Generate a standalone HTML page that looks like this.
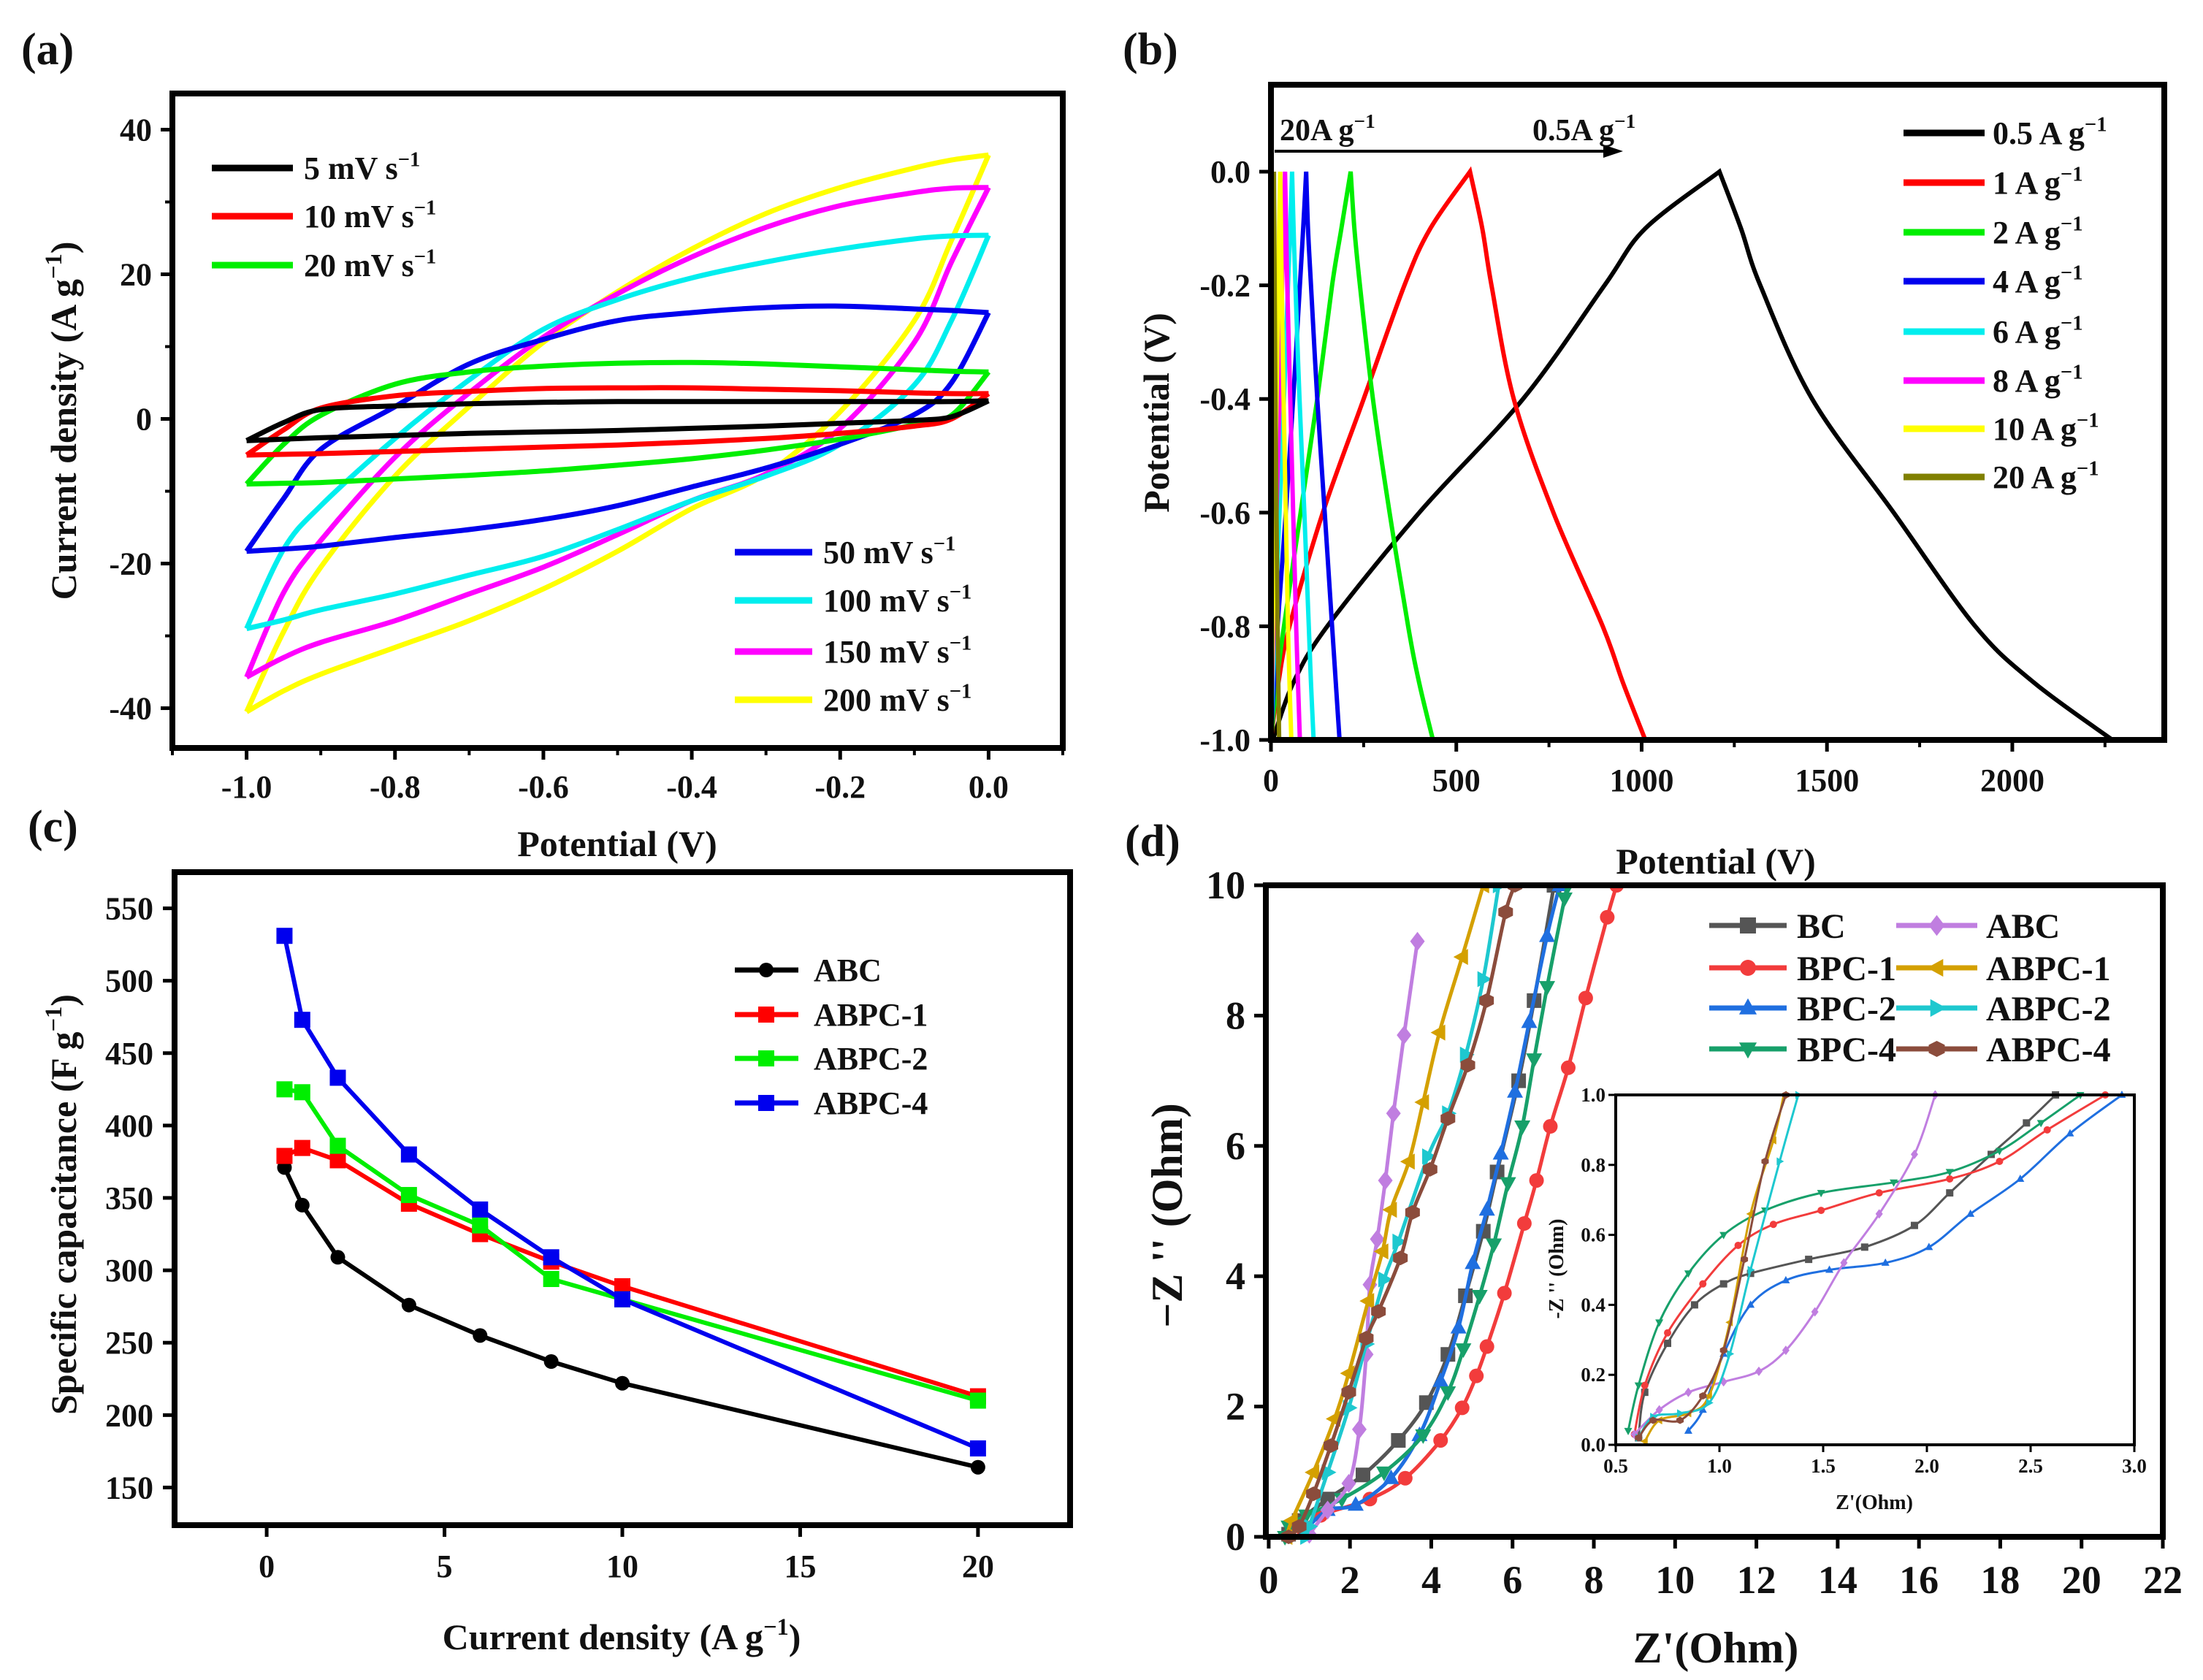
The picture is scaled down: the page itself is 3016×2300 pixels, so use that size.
<!DOCTYPE html>
<html><head><meta charset="utf-8">
<style>
html,body{margin:0;padding:0;background:#fff;}
svg{display:block;}
text{font-family:"Liberation Serif",serif;font-weight:bold;fill:#111;}
</style></head>
<body>
<svg id="fig" width="3016" height="2300" viewBox="0 0 3016 2300" xmlns="http://www.w3.org/2000/svg"></svg>
<script>
// ---------- Panel (a) CV data ----------
const cvPotential = [-1.0,-0.95,-0.9,-0.8,-0.7,-0.6,-0.5,-0.4,-0.3,-0.2,-0.1,-0.05,0.0];
const cvLabels = ["5 mV s","10 mV s","20 mV s","50 mV s","100 mV s","150 mV s","200 mV s"];
const cvColors = ["#000000","#ff0000","#00ee00","#0000ee","#00eeee","#ff00ff","#ffff00"];
const cvFwd5   = [-3,-0.5,1.3,1.8,2.1,2.3,2.4,2.4,2.4,2.4,2.4,2.4,2.5];
const cvRev5   = [-3,-2.8,-2.6,-2.3,-2.0,-1.8,-1.6,-1.3,-1.0,-0.6,-0.2,0.3,2.5];
const cvFwd10  = [-5,-1.5,1.5,3.2,3.8,4.2,4.3,4.3,4.1,3.9,3.6,3.5,3.5];
const cvRev10  = [-5,-4.9,-4.8,-4.5,-4.2,-3.9,-3.6,-3.2,-2.7,-2.0,-1.0,0.0,3.5];
const cvFwd20  = [-9,-3.5,0.5,4.8,6.5,7.3,7.7,7.8,7.6,7.2,6.8,6.6,6.5];
const cvRev20  = [-9,-8.9,-8.8,-8.3,-7.8,-7.2,-6.4,-5.5,-4.3,-2.8,-0.8,0.5,6.5];
const cvFwd50  = [-18.3,-11,-4.2,1.7,7.6,11,13.6,14.7,15.4,15.6,15.2,15,14.7];
const cvRev50  = [-18.3,-18,-17.6,-16.4,-15.3,-13.9,-12,-9.4,-6.8,-3.5,0.6,5,14.7];
const cvFwd100 = [-29,-18,-12,-2.7,5.4,12.4,16.5,19.5,21.7,23.5,24.9,25.3,25.4];
const cvRev100 = [-29,-27.8,-26.4,-24.2,-21.6,-19,-15.3,-11.3,-7.9,-3.5,4.7,13.6,25.4];
const cvFwd150 = [-35.7,-24,-16.8,-5.3,3.6,11.3,17.3,22.4,26.5,29.5,31.3,31.9,32];
const cvRev150 = [-35.7,-33,-30.9,-27.9,-24.2,-20.5,-16,-11.3,-7.6,-1.3,10.6,21.7,32];
const cvFwd200 = [-40.5,-29.4,-20.5,-7.9,1.7,10.6,17.6,23.5,28.4,32,34.7,35.8,36.5];
const cvRev200 = [-40.5,-37.6,-35.3,-31.6,-27.9,-23.5,-18.3,-12.4,-7.6,1,13.6,24.7,36.5];
const cvXTicks = [-1.0,-0.8,-0.6,-0.4,-0.2,0.0];
const cvYTicks = [40,20,0,-20,-40];

// ---------- Panel (b) GCD data ----------
// charge: times at levels (-1 -> 0); discharge: times at levels reversed (0 -> -1)
const gcdLevels = [-1,-0.9,-0.8,-0.6,-0.4,-0.2,-0.1,0];
const gcdLabels = ["0.5 A g","1  A g","2  A g","4  A g","6  A g","8  A g","10 A g","20 A g"];
const gcdColors = ["#000000","#ff0000","#00ee00","#0000ee","#00eeee","#ff00ff","#ffff00","#808000"];
const gcdCharge05 = [5,60,152,400,680,900,1010,1210];
const gcdDis05    = [1210,1268,1320,1460,1680,1900,2060,2270];
const gcdCharge1  = [0,20,50,140,250,360,430,537];
const gcdDis1     = [537,570,595,655,762,895,950,1010];
const gcdCharge2  = [0,15,35,80,125,165,190,215];
const gcdDis2     = [215,225,240,275,320,370,400,437];
const gcdCharge4  = [0,8,18,40,60,78,87,95];
const gcdDis4     = [95,100,108,125,145,165,175,185];
const gcdCharge6  = [0,5,11,23,35,46,52,57];
const gcdDis6     = [57,61,66,77,90,102,108,115];
const gcdCharge8  = [0,3,7,15,23,30,34,38];
const gcdDis8     = [38,41,44,52,60,68,73,78];
const gcdCharge10 = [0,2,5,10,15,20,22,25];
const gcdDis10    = [25,27,29,34,40,46,50,55];
const gcdCharge20 = [0,1,2,3,5,6,7,8];
const gcdDis20    = [8,9,10,12,15,18,20,22];
const gcdXTicks = [0,500,1000,1500,2000];
const gcdYTicks = [0.0,-0.2,-0.4,-0.6,-0.8,-1.0];

// ---------- Panel (c) rate data ----------
const rateCurrent = [0.5,1,2,4,6,8,10,20];
const rateABC   = [371,345,309,276,255,237,222,164];
const rateABPC1 = [379,384.5,376,346,325,306,289,213];
const rateABPC2 = [425,423,386,352,331,294,280,210];
const rateABPC4 = [531,473,433,380,342,309,280,177];
const rateXTicks = [0,5,10,15,20];
const rateYTicks = [550,500,450,400,350,300,250,200,150];

// ---------- Panel (d) EIS data ----------
const eisBCx   = [7.02,6.53,6.15,5.62,5.28,4.84,4.41,3.88,3.19,2.32,1.45,0.75,0.49];
const eisBCy   = [10,8.23,7.0,5.6,4.69,3.7,2.8,2.06,1.48,0.95,0.58,0.25,0.04];
const eisBPC1x = [8.56,8.33,7.8,7.37,6.93,6.59,6.29,5.8,5.37,5.11,4.76,4.23,3.36,2.49,1.28,0.84];
const eisBPC1y = [10,9.51,8.27,7.2,6.3,5.47,4.81,3.74,2.92,2.47,1.98,1.48,0.9,0.58,0.33,0.12];
const eisBPC2x = [7.16,6.85,6.41,6.06,5.71,5.37,5.02,4.67,4.23,3.71,3.01,2.14,1.45,0.92];
const eisBPC2y = [10,9.22,7.9,6.83,5.88,5.02,4.2,3.21,2.39,1.56,0.9,0.49,0.41,0.12];
const eisBPC4x = [7.37,7.28,6.85,6.53,6.24,5.89,5.54,5.19,4.79,4.41,3.8,2.84,1.8,0.92,0.49,0.4];
const eisBPC4y = [10,9.8,8.44,7.33,6.3,5.43,4.49,3.7,2.88,2.22,1.56,0.99,0.58,0.33,0.16,0];
const eisABCx  = [3.66,3.33,3.07,2.87,2.67,2.49,2.4,2.23,1.97,1.45,1.0];
const eisABCy  = [9.14,7.7,6.5,5.47,4.57,3.87,2.8,1.65,0.82,0.41,0.04];
const eisABPC1x = [5.28,4.76,4.2,3.8,3.45,3.01,2.8,2.45,1.97,1.62,1.1,0.57,0.44];
const eisABPC1y = [10,8.9,7.74,6.67,5.76,5.02,4.38,3.62,2.51,1.81,0.99,0.25,0];
const eisABPC2x = [5.66,5.28,4.85,4.41,3.92,3.19,2.84,2.4,1.97,1.45,1.0,0.92];
const eisABPC2y = [10,8.56,7.4,6.5,5.84,4.53,3.95,2.96,1.98,0.99,0.16,0];
const eisABPC4x = [6.06,5.83,5.36,4.9,4.41,3.97,3.54,3.24,2.7,2.4,1.97,1.53,1.1,0.75,0.49];
const eisABPC4y = [10,9.59,8.23,7.24,6.42,5.64,4.98,4.28,3.46,3.05,2.22,1.4,0.66,0.16,0];
const eisXTicks = [0,2,4,6,8,10,12,14,16,18,20,22];
const eisYTicks = [0,2,4,6,8,10];
// inset
const insBCx   = [0.61,0.64,0.75,0.88,1.02,1.15,1.43,1.70,1.94,2.11,2.31,2.48,2.62];
const insBCy   = [0.02,0.15,0.29,0.40,0.46,0.49,0.53,0.565,0.627,0.72,0.83,0.92,1.0];
const insBPC1x = [0.59,0.64,0.75,0.92,1.09,1.26,1.49,1.77,2.11,2.35,2.58,2.86];
const insBPC1y = [0.03,0.17,0.32,0.46,0.57,0.63,0.67,0.72,0.76,0.81,0.90,1.0];
const insBPC2x = [0.85,0.92,1.02,1.15,1.32,1.53,1.80,2.01,2.21,2.45,2.69,2.94];
const insBPC2y = [0.04,0.10,0.26,0.40,0.47,0.50,0.52,0.565,0.66,0.76,0.89,1.0];
const insBPC4x = [0.56,0.61,0.71,0.85,1.02,1.22,1.49,1.84,2.11,2.35,2.55,2.74];
const insBPC4y = [0.04,0.17,0.35,0.49,0.60,0.67,0.72,0.75,0.78,0.84,0.92,1.0];
const insABCx  = [0.59,0.71,0.85,1.02,1.19,1.32,1.46,1.60,1.77,1.94,2.04];
const insABCy  = [0.03,0.10,0.15,0.18,0.21,0.27,0.38,0.52,0.66,0.83,1.0];
const insABPC1x = [0.64,0.71,0.85,0.95,1.05,1.15,1.26,1.31];
const insABPC1y = [0.01,0.07,0.09,0.14,0.35,0.66,0.87,1.0];
const insABPC2x = [0.61,0.68,0.81,0.95,1.05,1.15,1.29,1.38];
const insABPC2y = [0.02,0.08,0.09,0.12,0.26,0.50,0.81,1.0];
const insABPC4x = [0.61,0.68,0.81,0.92,1.02,1.12,1.22,1.32];
const insABPC4y = [0.02,0.07,0.07,0.14,0.27,0.53,0.81,1.0];
const insXTicks = [0.5,1.0,1.5,2.0,2.5,3.0];
const insYTicks = [0.0,0.2,0.4,0.6,0.8,1.0];
const eisNames = ["BC","BPC-1","BPC-2","BPC-4","ABC","ABPC-1","ABPC-2","ABPC-4"];
const eisColors = ["#555555","#f23c3c","#1f6fe0","#17a06a","#c07ee0","#d4a000","#1ec8cf","#8b4c3c"];

// ---------- drawing ----------
const NS = "http://www.w3.org/2000/svg";
const svg = document.getElementById("fig");
function mk(tag, attrs, parent){
  const e = document.createElementNS(NS, tag);
  for (const k in attrs) e.setAttribute(k, attrs[k]);
  (parent||svg).appendChild(e);
  return e;
}
function lin(d0,d1,p0,p1){ return v => p0 + (v-d0)/(d1-d0)*(p1-p0); }
function smoothSeg(pts){
  let d = "";
  for (let i=0;i<pts.length-1;i++){
    const p0=pts[Math.max(0,i-1)], p1=pts[i], p2=pts[i+1], p3=pts[Math.min(pts.length-1,i+2)];
    const c1=[p1[0]+(p2[0]-p0[0])/6, p1[1]+(p2[1]-p0[1])/6];
    const c2=[p2[0]-(p3[0]-p1[0])/6, p2[1]-(p3[1]-p1[1])/6];
    d += "C"+c1[0].toFixed(1)+","+c1[1].toFixed(1)+" "+c2[0].toFixed(1)+","+c2[1].toFixed(1)+" "+p2[0].toFixed(1)+","+p2[1].toFixed(1);
  }
  return d;
}
function smooth(pts){
  if (pts.length<2) return "";
  return "M"+pts[0][0].toFixed(1)+","+pts[0][1].toFixed(1)+smoothSeg(pts);
}
function poly(pts){ return "M"+pts.map(p=>p[0].toFixed(1)+","+p[1].toFixed(1)).join("L"); }
function txt(s, x, y, size, anchor, parent){
  const t = mk("text",{x:x,y:y,"font-size":size,"text-anchor":anchor||"start"}, parent);
  t.textContent = s; return t;
}
function supTxt(s, sup, x, y, size, anchor, parent, tail){
  const t = mk("text",{x:x,y:y,"font-size":size,"text-anchor":anchor||"start"}, parent);
  t.appendChild(document.createTextNode(s));
  const ts = mk("tspan",{dy:-size*0.4,"font-size":size*0.65}, t);
  ts.textContent = sup;
  if (tail){ const t2 = mk("tspan",{dy:size*0.4}, t); t2.textContent = tail; }
  return t;
}
function frame(x0,y0,x1,y1,w,parent){
  mk("rect",{x:x0,y:y0,width:x1-x0,height:y1-y0,fill:"none",stroke:"#000","stroke-width":w}, parent);
}
function marker(g, shape, x, y, r, color){
  let m;
  if (shape==="square") m = mk("rect",{x:x-r,y:y-r,width:2*r,height:2*r,fill:color}, g);
  else if (shape==="circle") m = mk("circle",{cx:x,cy:y,r:r,fill:color}, g);
  else if (shape==="up") m = mk("path",{d:`M${x},${y-r*1.2}L${x+r*1.1},${y+r*0.8}L${x-r*1.1},${y+r*0.8}Z`,fill:color}, g);
  else if (shape==="down") m = mk("path",{d:`M${x},${y+r*1.2}L${x+r*1.1},${y-r*0.8}L${x-r*1.1},${y-r*0.8}Z`,fill:color}, g);
  else if (shape==="left") m = mk("path",{d:`M${x-r*1.2},${y}L${x+r*0.8},${y-r*1.1}L${x+r*0.8},${y+r*1.1}Z`,fill:color}, g);
  else if (shape==="right") m = mk("path",{d:`M${x+r*1.2},${y}L${x-r*0.8},${y-r*1.1}L${x-r*0.8},${y+r*1.1}Z`,fill:color}, g);
  else if (shape==="diamond") m = mk("path",{d:`M${x},${y-r*1.3}L${x+r},${y}L${x},${y+r*1.3}L${x-r},${y}Z`,fill:color}, g);
  else m = mk("path",{d:`M${x-r},${y-r*0.5}L${x},${y-r}L${x+r},${y-r*0.5}L${x+r},${y+r*0.5}L${x},${y+r}L${x-r},${y+r*0.5}Z`,fill:color}, g);
  
  
  return m;
}

// ===== Panel (a) =====
(function(){
  const g = mk("g",{});
  
  
  const X = lin(-1.1,0.1,236,1455), Y = lin(45,-45.5,128,1024);
  const L = txt("(a)", 29, 88, 62, "start", g);
   
  const fwd=[cvFwd5,cvFwd10,cvFwd20,cvFwd50,cvFwd100,cvFwd150,cvFwd200];
  const rev=[cvRev5,cvRev10,cvRev20,cvRev50,cvRev100,cvRev150,cvRev200];
  for (let s=fwd.length-1;s>=0;s--){
    const a = cvPotential.map((p,i)=>[X(p),Y(fwd[s][i])]);
    const b = cvPotential.map((p,i)=>[X(p),Y(rev[s][i])]).reverse();
    const p1 = mk("path",{d:smooth(a),fill:"none",stroke:cvColors[s],"stroke-width":7}, g);
    
    
    const p2 = mk("path",{d:smooth(b),fill:"none",stroke:cvColors[s],"stroke-width":7}, g);
    
    
  }
  frame(236,128,1455,1024,8,g);
  cvXTicks.forEach(v=>{ mk("line",{x1:X(v),x2:X(v),y1:1024,y2:1040,stroke:"#000","stroke-width":5},g);
    const t=txt(v.toFixed(1),X(v),1092,44,"middle",g);
      });
  [-1.1,-0.9,-0.7,-0.5,-0.3,-0.1,0.1].forEach(v=>mk("line",{x1:X(v),x2:X(v),y1:1024,y2:1034,stroke:"#000","stroke-width":4},g));
  cvYTicks.forEach(v=>{ mk("line",{x1:220,x2:236,y1:Y(v),y2:Y(v),stroke:"#000","stroke-width":5},g);
    const t=txt(String(v),208,Y(v)+15,44,"end",g);
      });
  [30,10,-10,-30].forEach(v=>mk("line",{x1:226,x2:236,y1:Y(v),y2:Y(v),stroke:"#000","stroke-width":4},g));
  const xt = txt("Potential (V)", 845, 1172, 50, "middle", g);
   
  const yg = mk("g",{transform:"translate(104,576) rotate(-90)"},g);
  const yt = supTxt("Current density (A g","−1",0,0,50,"middle",yg,")");
   
  const rows=[230,296,363,756,822,892,958];
  cvLabels.forEach((lab,i)=>{
    const x0 = i<3?290:1006, x1=i<3?401:1112, tx=i<3?416:1127;
    const l = mk("line",{x1:x0,x2:x1,y1:rows[i],y2:rows[i],stroke:cvColors[i],"stroke-width":9},g);
     
    const t = supTxt(lab,"−1",tx,rows[i]+15,44,"start",g);
     
  });
})();

// ===== Panel (b) =====
(function(){
  const g = mk("g",{});
  
  
  const X = lin(0,2410,1740,2963), Y = lin(0.153,-1.0,116,1013);
  const L = txt("(b)", 1537, 88, 62, "start", g);
   
  const ch=[gcdCharge05,gcdCharge1,gcdCharge2,gcdCharge4,gcdCharge6,gcdCharge8,gcdCharge10,gcdCharge20];
  const di=[gcdDis05,gcdDis1,gcdDis2,gcdDis4,gcdDis6,gcdDis8,gcdDis10,gcdDis20];
  const n = gcdLevels.length;
  for (let s=0;s<ch.length;s++){
    const a = gcdLevels.map((v,i)=>[X(ch[s][i]),Y(v)]);
    const b = di[s].map((t,i)=>[X(t),Y(gcdLevels[n-1-i])]);
    const p = mk("path",{d:smooth(a)+"L"+b[0][0].toFixed(1)+","+b[0][1].toFixed(1)+smoothSeg(b),fill:"none",stroke:gcdColors[s],"stroke-width":6,"stroke-linejoin":"miter"},g);
    
    
  }
  frame(1740,116,2963,1013,8,g);
  gcdXTicks.forEach(v=>{ mk("line",{x1:X(v),x2:X(v),y1:1013,y2:1029,stroke:"#000","stroke-width":5},g);
    const t=txt(String(v),X(v),1083,44,"middle",g);
      });
  [250,750,1250,1750,2250].forEach(v=>mk("line",{x1:X(v),x2:X(v),y1:1013,y2:1023,stroke:"#000","stroke-width":4},g));
  gcdYTicks.forEach(v=>{ mk("line",{x1:1724,x2:1740,y1:Y(v),y2:Y(v),stroke:"#000","stroke-width":5},g);
    const t=txt(v.toFixed(1),1712,Y(v)+15,44,"end",g);
      });
  const yg = mk("g",{transform:"translate(1600,565) rotate(-90)"},g);
  const yt = txt("Potential (V)",0,0,50,"middle",yg);
   
  const ar = mk("line",{x1:1745,x2:2200,y1:207,y2:207,stroke:"#000","stroke-width":4},g);
   
  mk("path",{d:"M2222,207L2195,198L2195,216Z",fill:"#000"},g);
  const a1 = supTxt("20A g","−1",1752,192,42,"start",g);  
  const a2 = supTxt("0.5A g","−1",2098,192,42,"start",g);  
  const rows=[182,250,318,385,454,521,587,653];
  gcdLabels.forEach((lab,i)=>{
    const l=mk("line",{x1:2606,x2:2717,y1:rows[i],y2:rows[i],stroke:gcdColors[i],"stroke-width":9},g);
     
    const t=supTxt(lab,"−1",2728,rows[i]+15,44,"start",g);
     
  });
})();

// ===== Panel (c) =====
(function(){
  const g = mk("g",{});
  
  
  const X = lin(-2.59,22.59,239,1465), Y = lin(575,124,1194,2088);
  const L = txt("(c)", 38, 1152, 62, "start", g);
   
  const series=[rateABC,rateABPC1,rateABPC2,rateABPC4];
  const names=["ABC","ABPC-1","ABPC-2","ABPC-4"];
  const cols=["#000000","#ff0000","#00ee00","#0000ee"];
  series.forEach((s,k)=>{
    const pts = rateCurrent.map((c,i)=>[X(c),Y(s[i])]);
    const p=mk("path",{d:poly(pts),fill:"none",stroke:cols[k],"stroke-width":6},g);
    
    
    pts.forEach(q=>marker(g,k===0?"circle":"square",q[0],q[1],k===0?10:11,cols[k]));
  });
  frame(239,1194,1465,2088,8,g);
  rateXTicks.forEach(v=>{ mk("line",{x1:X(v),x2:X(v),y1:2088,y2:2104,stroke:"#000","stroke-width":5},g);
    const t=txt(String(v),X(v),2159,44,"middle",g);
      });
  rateYTicks.forEach(v=>{ mk("line",{x1:223,x2:239,y1:Y(v),y2:Y(v),stroke:"#000","stroke-width":5},g);
    const t=txt(String(v),210,Y(v)+15,44,"end",g);
      });
  const xt = supTxt("Current density (A g","−1",851,2258,50,"middle",g,")");
   
  const yg = mk("g",{transform:"translate(104,1649) rotate(-90)"},g);
  const yt = supTxt("Specific capacitance (F g","−1",0,0,50,"middle",yg,")");
   
  const rows=[1328,1389,1449,1510];
  names.forEach((n,i)=>{
    const l=mk("line",{x1:1006,x2:1093,y1:rows[i],y2:rows[i],stroke:cols[i],"stroke-width":7},g);
     
    marker(g,i===0?"circle":"square",1049,rows[i],i===0?10:11,cols[i]);
    const t=txt(n,1114,rows[i]+15,44,"start",g);
     
  });
})();

// ===== Panel (d) =====
(function(){
  const g = mk("g",{});
  
  
  const X = lin(-0.07,22.0,1733,2961), Y = lin(10,0,1212,2104);
  const L = txt("(d)", 1540, 1172, 62, "start", g);
   
  const shapes=["square","circle","up","down","diamond","left","right","hex"];
  const xs=[eisBCx,eisBPC1x,eisBPC2x,eisBPC4x,eisABCx,eisABPC1x,eisABPC2x,eisABPC4x];
  const ys=[eisBCy,eisBPC1y,eisBPC2y,eisBPC4y,eisABCy,eisABPC1y,eisABPC2y,eisABPC4y];
  xs.forEach((xa,k)=>{
    const pts = xa.map((v,i)=>[X(v),Y(ys[k][i])]);
    const p=mk("path",{d:smooth(pts),fill:"none",stroke:eisColors[k],"stroke-width":5},g);
    
    
    pts.forEach(q=>marker(g,shapes[k],q[0],q[1],10,eisColors[k]));
  });
  mk("rect",{x:1733,y:1100,width:1240,height:108,fill:"#fff"},g);
  const pt = txt("Potential (V)", 2349, 1196, 50, "middle", g);
   
  frame(1733,1212,2961,2104,8,g);
  eisXTicks.forEach(v=>{ mk("line",{x1:X(v),x2:X(v),y1:2104,y2:2120,stroke:"#000","stroke-width":5},g);
    const t=txt(String(v),X(v),2181,54,"middle",g);
      });
  eisYTicks.forEach(v=>{ mk("line",{x1:1717,x2:1733,y1:Y(v),y2:Y(v),stroke:"#000","stroke-width":5},g);
    const t=txt(String(v),1705,Y(v)+18,54,"end",g);
      });
  const xt=txt("Z'(Ohm)",2349,2276,60,"middle",g);
   
  const yg = mk("g",{transform:"translate(1618,1664) rotate(-90)"},g);
  const yt=txt("−Z '' (Ohm)",0,0,60,"middle",yg);
   
  const rows=[1267,1325,1380,1436];
  eisNames.forEach((n,i)=>{
    const col = i<4?0:1, r = rows[i%4];
    const x0 = col?2596:2340, x1 = col?2707:2446, tx = col?2719:2460;
    const l=mk("line",{x1:x0,x2:x1,y1:r,y2:r,stroke:eisColors[i],"stroke-width":7},g);
     
    marker(g,shapes[i],(x0+x1)/2,r,11,eisColors[i]);
    const t=txt(n,tx,r+17,48,"start",g);
     
  });
  // inset
  const ig = mk("g",{},g);
  
  
  const IX = lin(0.5,3.0,2212,2922), IY = lin(1.0,0,1499,1978);
  mk("rect",{x:2212,y:1499,width:710,height:479,fill:"#fff"},ig);
  const ixs=[insBCx,insBPC1x,insBPC2x,insBPC4x,insABCx,insABPC1x,insABPC2x,insABPC4x];
  const iys=[insBCy,insBPC1y,insBPC2y,insBPC4y,insABCy,insABPC1y,insABPC2y,insABPC4y];
  ixs.forEach((xa,k)=>{
    const pts = xa.map((v,i)=>[IX(v),IY(iys[k][i])]);
    const p=mk("path",{d:smooth(pts),fill:"none",stroke:eisColors[k],"stroke-width":3},ig);
    
    
    pts.forEach(q=>marker(ig,shapes[k],q[0],q[1],5,eisColors[k]));
  });
  frame(2212,1499,2922,1978,4,ig);
  insXTicks.forEach(v=>{ mk("line",{x1:IX(v),x2:IX(v),y1:1978,y2:1988,stroke:"#000","stroke-width":3},ig);
    const t=txt(v.toFixed(1),IX(v),2016,27,"middle",ig);
      });
  insYTicks.forEach(v=>{ mk("line",{x1:2202,x2:2212,y1:IY(v),y2:IY(v),stroke:"#000","stroke-width":3},ig);
    const t=txt(v.toFixed(1),2198,IY(v)+9,27,"end",ig);
      });
  const ixt=txt("Z'(Ohm)",2566,2066,28,"middle",ig);
   
  const iyg = mk("g",{transform:"translate(2140,1737) rotate(-90)"},ig);
  const iyt=txt("-Z '' (Ohm)",0,0,28,"middle",iyg);
   
})();
</script>
</body></html>
